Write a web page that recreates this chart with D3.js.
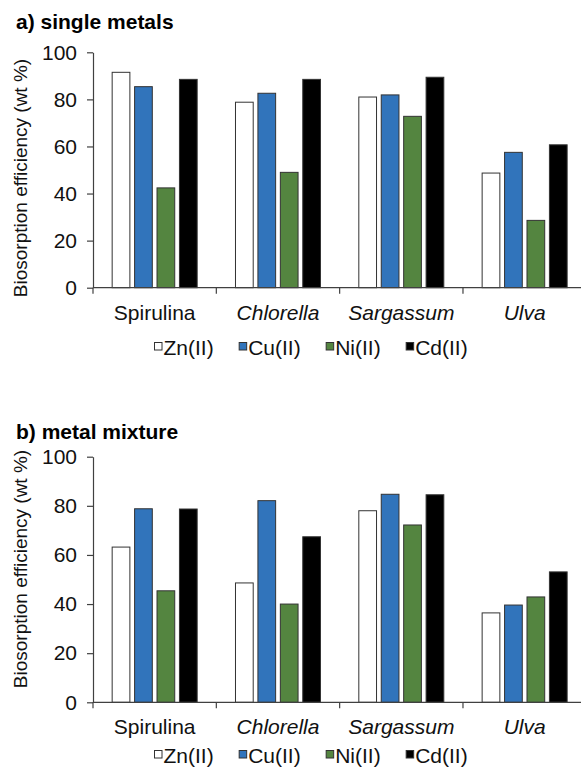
<!DOCTYPE html>
<html>
<head>
<meta charset="utf-8">
<script src="https://cdn.jsdelivr.net/npm/d3@7"></script>
<style>
  html, body { margin: 0; padding: 0; background: #fff; }
  svg { display: block; }
  text { font-family: "Liberation Sans", Arial, sans-serif; fill: #111; }
</style>
</head>
<body>
<svg id="chart" width="581" height="768"></svg>
<script>
// ---- data ----
const categories = ["Spirulina", "Chlorella", "Sargassum", "Ulva"];
const italicCats = ["Chlorella", "Sargassum", "Ulva"];
const seriesNames = ["Zn(II)", "Cu(II)", "Ni(II)", "Cd(II)"];
const seriesColors = ["#ffffff", "#3174bb", "#548540", "#000000"];
const yTicks = [0, 20, 40, 60, 80, 100];

// a) single metals
const singleZn = [91.5, 78.8, 81.0, 48.7];
const singleCu = [85.4, 82.6, 81.9, 57.5];
const singleNi = [42.4, 49.0, 72.8, 28.6];
const singleCd = [88.5, 88.5, 89.4, 60.7];

// b) metal mixture
const mixZn = [63.2, 48.6, 78.0, 36.4];
const mixCu = [78.8, 82.1, 84.7, 39.6];
const mixNi = [45.4, 40.0, 72.2, 42.9];
const mixCd = [78.7, 67.4, 84.5, 53.1];

const panels = [
  { title: "a) single metals", series: [singleZn, singleCu, singleNi, singleCd],
    top: 52.3, bottom: 287.7, titleY: 29, catY: 320, legY: 355, yTitleC: 178 },
  { title: "b) metal mixture", series: [mixZn, mixCu, mixNi, mixCd],
    top: 456.7, bottom: 702.3, titleY: 439, catY: 734, legY: 763, yTitleC: 569 }
];

const svg = d3.select("#chart");
const left = 93, right = 586.3;
const axisColor = "#404040";
const fs = 21;

panels.forEach(p => {
  const g = svg.append("g");

  const x0 = d3.scaleBand().domain(categories).range([left, right]).padding(0);
  const groupW = 85;
  const x1 = d3.scaleBand().domain(seriesNames).range([0, groupW]).paddingInner(0.21).paddingOuter(0);
  const y = d3.scaleLinear().domain([0, 100]).range([p.bottom, p.top]);

  // title
  g.append("text").attr("x", 16).attr("y", p.titleY)
    .attr("font-size", 21).attr("font-weight", "bold").style("fill", "#000")
    .text(p.title);

  // bars
  const rows = [];
  categories.forEach((c, ci) => {
    seriesNames.forEach((s, si) => rows.push({ c, s, si, v: p.series[si][ci] }));
  });
  g.append("g").selectAll("rect").data(rows).join("rect")
    .attr("x", d => x0(d.c) + (x0.bandwidth() - groupW) / 2 + x1(d.s))
    .attr("y", d => y(d.v))
    .attr("width", x1.bandwidth())
    .attr("height", d => y(0) - y(d.v))
    .attr("fill", d => seriesColors[d.si])
    .attr("stroke", "#333")
    .attr("stroke-width", 1);

  // y axis
  const yAxis = d3.axisLeft(y).tickValues(yTicks).tickSize(6).tickSizeOuter(0).tickPadding(10);
  const ya = g.append("g").attr("transform", `translate(${left},0)`).call(yAxis);
  ya.select(".domain").attr("stroke", axisColor).attr("stroke-width", 1.2);
  ya.selectAll(".tick line").attr("stroke", axisColor).attr("stroke-width", 1.2);
  ya.selectAll(".tick text").attr("font-size", fs).attr("font-family", "Liberation Sans, Arial, sans-serif").style("fill", "#111");

  // x axis (ticks between categories)
  const xa = g.append("g").attr("transform", `translate(0,${p.bottom})`);
  xa.append("line").attr("x1", left).attr("x2", right).attr("y1", 0).attr("y2", 0)
    .attr("stroke", axisColor).attr("stroke-width", 1.2);
  const bounds = categories.map(c => x0(c)).concat([x0(categories[categories.length - 1]) + x0.bandwidth()]);
  xa.selectAll("line.sep").data(bounds).join("line").attr("class", "sep")
    .attr("x1", d => d).attr("x2", d => d).attr("y1", 0).attr("y2", 6)
    .attr("stroke", axisColor).attr("stroke-width", 1.2);
  xa.selectAll("text.cat").data(categories).join("text").attr("class", "cat")
    .attr("x", d => x0(d) + x0.bandwidth() / 2)
    .attr("y", p.catY - p.bottom)
    .attr("text-anchor", "middle")
    .attr("font-size", fs)
    .attr("font-style", d => italicCats.includes(d) ? "italic" : "normal")
    .text(d => d);

  // y title
  g.append("text")
    .attr("transform", `translate(27,${p.yTitleC}) rotate(-90)`)
    .attr("text-anchor", "middle").attr("font-size", 19)
    .text("Biosorption efficiency (wt %)");

  // legend
  const leg = g.append("g");
  let lx = 154.5;
  seriesNames.forEach((s, si) => {
    leg.append("rect").attr("x", lx).attr("y", p.legY - 12.5).attr("width", 7.5).attr("height", 7.5)
      .attr("fill", seriesColors[si]).attr("stroke", "#333").attr("stroke-width", 1);
    const t = leg.append("text").attr("x", lx + 9).attr("y", p.legY).attr("font-size", fs).text(s);
    const w = t.node().getComputedTextLength();
    lx = lx + 9 + w + 25.5;
  });
});
</script>
</body>
</html>
